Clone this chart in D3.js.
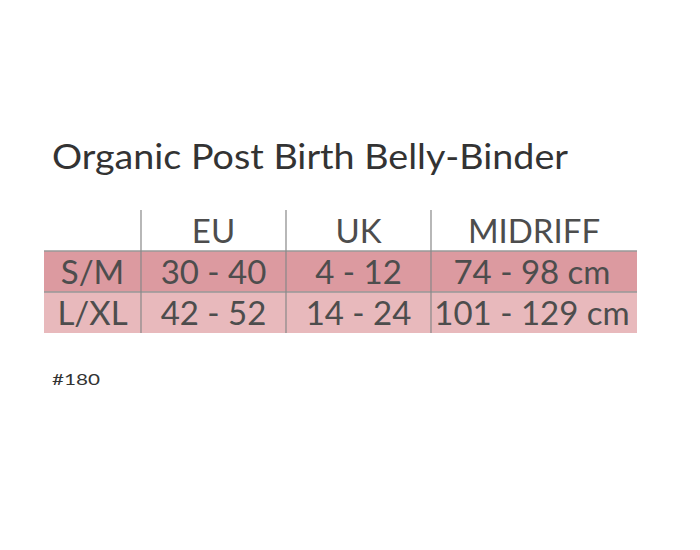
<!DOCTYPE html>
<html><head><meta charset="utf-8">
<script src="https://cdn.jsdelivr.net/npm/d3@7"></script>
<style>body{margin:0;background:#fff}</style>
</head><body>
<svg id="chart" width="700" height="550"></svg>
<script>
var title = "Organic Post Birth Belly-Binder";
var columns = ["", "EU", "UK", "MIDRIFF"];
var sizes = ["S/M", "L/XL"];
var euValues = ["30 - 40", "42 - 52"];
var ukValues = ["4 - 12", "14 - 24"];
var midriffValues = ["74 - 98 cm", "101 - 129 cm"];
var rowColors = ["#dc9aa0", "#e8b9bc"];
var footnote = "#180";

var svg = d3.select("#chart");
var font = "Lato, 'Open Sans', sans-serif";
var ink = "#4d4d4d";

var colEdges = [44, 141, 286, 431, 637];
var y = d3.scaleBand().domain(["head"].concat(sizes)).range([210, 333]).paddingInner(0);

svg.append("text").attr("x", 52).attr("y", 169)
  .attr("font-family", font).attr("font-size", 34).attr("fill", "#333")
  .attr("textLength", 516).attr("lengthAdjust", "spacingAndGlyphs")
  .text(title);

var rows = sizes.map(function (s, i) {
  return [s, euValues[i], ukValues[i], midriffValues[i]];
});

svg.selectAll("rect.row").data(rows).enter().append("rect")
  .attr("x", colEdges[0]).attr("width", colEdges[4] - colEdges[0])
  .attr("y", function (d) { return y(d[0]); }).attr("height", y.bandwidth())
  .attr("fill", function (d, i) { return rowColors[i]; });

svg.selectAll("line.h").data(sizes).enter().append("line")
  .attr("x1", colEdges[0]).attr("x2", colEdges[4])
  .attr("y1", function (d) { return y(d); }).attr("y2", function (d) { return y(d); })
  .attr("stroke", "#999").attr("stroke-width", 1.5);

svg.selectAll("line.v").data(colEdges.slice(1, 4)).enter().append("line")
  .attr("x1", function (d) { return d; }).attr("x2", function (d) { return d; })
  .attr("y1", 210).attr("y2", 333)
  .attr("stroke", "#888").attr("stroke-width", 1.2);

function cx(i) { return (colEdges[i] + colEdges[i + 1]) / 2; }

svg.selectAll("text.head").data(columns).enter().append("text")
  .attr("x", function (d, i) { return cx(i); })
  .attr("y", y("head") + y.bandwidth() / 2 + 12)
  .attr("text-anchor", "middle").attr("font-family", font)
  .attr("font-size", 33).attr("fill", ink).text(function (d) { return d; });

rows.forEach(function (r) {
  svg.selectAll(null).data(r).enter().append("text")
    .attr("x", function (d, i) { return cx(i) + (i === 3 ? -2 : 0); })
    .attr("y", y(r[0]) + y.bandwidth() / 2 + 12)
    .attr("text-anchor", "middle").attr("font-family", font)
    .attr("font-size", 33).attr("fill", ink).text(function (d) { return d; });
});

svg.append("text").attr("x", 52).attr("y", 385)
  .attr("font-family", font).attr("font-size", 16).attr("fill", "#333")
  .attr("textLength", 48).attr("lengthAdjust", "spacingAndGlyphs")
  .text(footnote);
</script>
</body></html>
